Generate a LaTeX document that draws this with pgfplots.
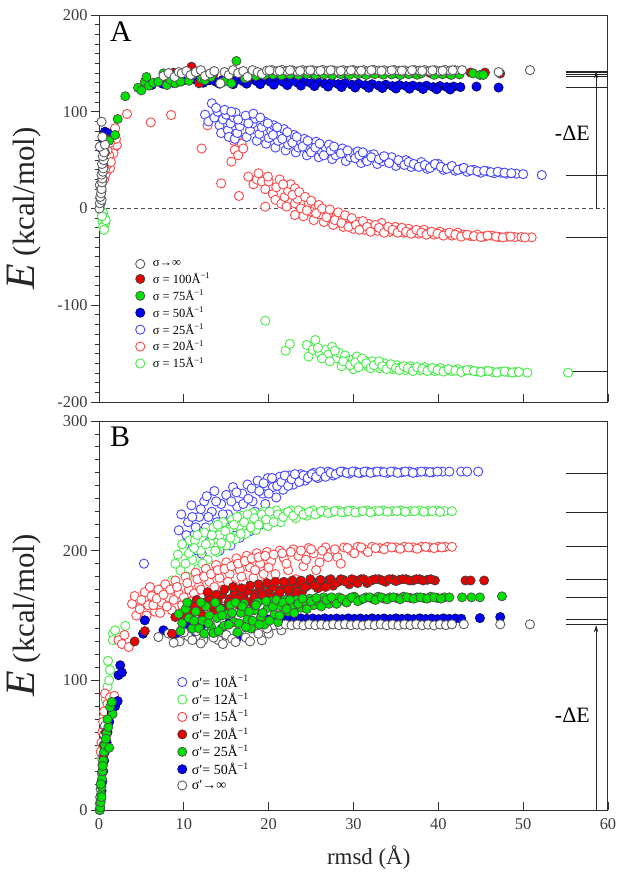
\documentclass[border=0pt]{standalone}
\usepackage{pgfplots}
\pgfplotsset{compat=1.18}
\usepackage{fontspec}
\setmainfont{Liberation Serif}
\usetikzlibrary{arrows.meta}
\definecolor{cgray}{RGB}{95,95,95}
\definecolor{cred}{RGB}{235,0,0}
\definecolor{cgreen}{RGB}{0,225,0}
\definecolor{cblue}{RGB}{0,0,245}
\definecolor{oblue}{RGB}{70,70,255}
\definecolor{ored}{RGB}{255,70,70}
\definecolor{ogreen}{RGB}{70,235,70}
\definecolor{tickc}{RGB}{60,60,60}
\pgfplotsset{
  sgray/.style={only marks, mark=*, mark options={solid, draw=cgray, fill=white, line width=0.9bp}, mark size=4.6bp},
  sred/.style={only marks, mark=*, mark options={solid, draw=black!75, fill=cred, line width=0.7bp}, mark size=4.6bp},
  sgreen/.style={only marks, mark=*, mark options={solid, draw=black!70, fill=cgreen, line width=0.7bp}, mark size=4.6bp},
  sblue/.style={only marks, mark=*, mark options={solid, draw=black!60!blue, fill=cblue, line width=0.7bp}, mark size=4.6bp},
  oblu/.style={only marks, mark=*, mark options={solid, draw=oblue, fill=white, line width=0.9bp}, mark size=4.6bp},
  ored/.style={only marks, mark=*, mark options={solid, draw=ored, fill=white, line width=0.9bp}, mark size=4.6bp},
  ogre/.style={only marks, mark=*, mark options={solid, draw=ogreen, fill=white, line width=0.9bp}, mark size=4.6bp},
  myax/.style={
    scale only axis, width=509bp, xmin=0, xmax=60,
    axis line style={line width=1bp, draw=black!80},
    xtick={0,10,20,30,40,50,60},
    xtick pos=bottom, ytick pos=left,
    xtick align=inside, ytick align=outside,
    minor x tick num=0, minor y tick num=9,
    major tick length=8bp, minor tick length=4.5bp,
    every tick/.style={black!80, line width=0.9bp},
    tick label style={font=\fontsize{16.5}{18}\selectfont, text=tickc},
    /pgf/number format/assume math mode=true,
    ylabel={\color{black!85}\fontsize{42}{42}\selectfont\itshape E\upshape\fontsize{31}{31}\selectfont\ (kcal/mol)},
    ylabel style={at={(axis description cs:-0.147,0.5)}, anchor=center},
    legend cell align=left,
    legend image code/.code={\draw[##1] plot coordinates {(0bp,0bp)};},
  },
  refl/.style={forget plot, black!85, line width=0.8bp},
}
\begin{document}
\begin{tikzpicture}
\useasboundingbox (0,0) rectangle (624bp,-877bp);
%%%%%%%%%%%%%%%%%%%% PANEL A
\begin{axis}[myax, at={(99bp,-15bp)}, anchor=north west, height=387bp,
  ymin=-200, ymax=200, ytick={-200,-100,0,100,200}, xticklabels={},
  legend style={draw=none, fill=none, at={(axis cs:4.3,-52)}, anchor=north west,
    font=\fontsize{12.5}{13}\selectfont, row sep=3.2bp, column sep=7bp, inner sep=0pt, nodes={inner sep=1bp}}]
\addlegendimage{sgray}\addlegendentry{σ→∞}
\addlegendimage{sred}\addlegendentry{σ = 100Å\textsuperscript{−1}}
\addlegendimage{sgreen}\addlegendentry{σ = 75Å\textsuperscript{−1}}
\addlegendimage{sblue}\addlegendentry{σ = 50Å\textsuperscript{−1}}
\addlegendimage{oblu}\addlegendentry{σ = 25Å\textsuperscript{−1}}
\addlegendimage{ored}\addlegendentry{σ = 20Å\textsuperscript{−1}}
\addlegendimage{ogre}\addlegendentry{σ = 15Å\textsuperscript{−1}}
% zero line
\addplot[forget plot, black!70, line width=1.1bp, dash pattern=on 4bp off 3bp] coordinates {(0,0) (59.7,0)};
% reference lines
\addplot[refl] coordinates {(55.1,142.1) (60,142.1)};
\addplot[refl] coordinates {(55.1,140.4) (60,140.4)};
\addplot[refl] coordinates {(55.1,138.7) (60,138.7)};
\addplot[refl] coordinates {(55.1,136.9) (60,136.9)};
\addplot[refl] coordinates {(55.1,125.3) (60,125.3)};
\addplot[refl] coordinates {(55.1,34.6) (60,34.6)};
\addplot[refl] coordinates {(55.1,-30.2) (60,-30.2)};
\addplot[refl] coordinates {(55.1,-168.7) (60,-168.7)};
\addplot[forget plot, black!85, line width=0.9bp, -{Stealth[length=7bp,width=4.5bp]}] coordinates {(58.6,0) (58.6,142)};
\node[font=\fontsize{22}{22}\selectfont] at (axis cs:55.8,77.6) {-ΔE};
\node[font=\fontsize{30}{30}\selectfont, anchor=north west] at (axis cs:0.9,197) {A};
% sigma = 15 open green
\addplot[ogre, forget plot] coordinates {
(0.3,-3) (0.5,-5) (0.6,-9) (0.4,-13) (0.7,-16) (0.5,-19) (0.6,-22) (0.8,-12) (0.35,-8)
(19.6,-116) (22.0,-147) (22.5,-140) (24.5,-141) (25.5,-136) (24.7,-153) (25.2,-146) (26.0,-150) (26.7,-146)
(27.0,-151) (27.5,-143) (28.0,-154.6) (28.3,-149) (28.6,-163) (29.0,-152) (29.4,-157) (29.9,-156.3) (30.0,-166)
(30.4,-153) (30.8,-160) (31.3,-157) (31.7,-163) (32.2,-158) (32.7,-161) (33.1,-165) (33.6,-160) (34.1,-163)
(34.6,-166) (35.1,-162) (35.6,-164) (36.1,-167) (36.7,-163) (37.2,-165) (37.8,-167) (38.4,-164) (39.0,-166)
(39.6,-168) (40.2,-165) (40.9,-167) (41.6,-168) (42.3,-166) (43.0,-168) (43.8,-167) (44.6,-168.5) (45.5,-168)
(46.4,-169) (47.3,-168.5) (48.2,-169) (49.1,-169) (50.5,-169.7) (55.3,-169.7)
(25.8,-144) (26.3,-155) (27.2,-158) (27.8,-147) (28.8,-158) (29.6,-162) (30.2,-159) (30.6,-164) (31.0,-155)
(31.5,-160) (32.0,-165) (32.4,-162) (33.0,-158) (33.4,-163) (33.9,-166) (34.4,-161) (35.0,-165) (35.4,-167)
(35.9,-163) (36.4,-165) (37.0,-168) (37.5,-164) (38.1,-166) (38.7,-168) (39.3,-165) (39.9,-167) (40.6,-168.5)
(41.2,-166) (42.0,-167.5) (42.7,-169) (43.4,-167) (44.2,-168) (45.0,-169) (45.9,-168) (46.9,-169.5) (47.8,-168.5)
(48.7,-169.5) (49.5,-169)};
% sigma = 20 open red
\addplot[ored, forget plot] coordinates {
(0.6,30) (0.8,36) (1.1,50) (1.3,41.5) (0.9,45) (1.5,63.9) (1.9,63.9) (1.7,57) (1.7,70.8) (2.1,65.6) (1.9,82.9)
(1.2,55) (1.4,48) (1.0,60) (1.6,75) (2.0,72) (0.7,40) (1.3,68)
(3.3,97.7) (6.1,89) (8.5,96.6) (12.1,62) (12.8,86) (14.4,26) (16.5,13) (15.6,48.4) (16.0,60.5) (16.8,67)
(16.4,55) (15.9,70) (16.3,75) (17.0,62)
(17.6,33) (18.2,25) (18.6,30) (18.8,36.4) (19.2,27.8) (19.6,20) (20.0,28) (19.9,33) (20.5,15) (20.9,22) (21.3,30)
(19.6,1.9) (20.8,9) (21.5,5) (21.9,12) (22.3,18) (22.6,25) (23.1,5.3) (23.1,-6.7) (23.1,20.9) (23.4,10) (23.8,0)
(24.1,-8) (24.7,6) (24.9,-3) (25.3,-12) (25.9,3.6) (26.1,-6) (26.5,-14) (27.0,-5) (27.3,-10) (27.6,-17)
(28.0,-8) (28.4,-13) (28.8,-19) (29.2,-11) (29.6,-16) (30.0,-21) (30.5,-14) (30.9,-18) (31.3,-22) (31.8,-16)
(32.3,-20) (32.8,-23) (33.3,-15) (33.8,-21) (34.3,-24) (34.9,-19) (35.4,-22) (35.9,-25) (36.5,-21) (37.1,-24)
(37.7,-26) (38.3,-22) (38.9,-25) (39.5,-27) (40.2,-24) (40.9,-26) (41.6,-28) (42.3,-25) (43.0,-27) (43.8,-28.5)
(44.6,-27) (45.4,-29) (46.3,-28) (47.2,-29.5) (48.1,-29) (49.0,-29.5) (49.8,-29.5) (51.0,-29.8)
(21.7,25) (22.1,2) (22.8,14) (23.6,17) (24.3,12) (24.5,-2) (25.0,8) (25.6,-5) (26.3,0) (26.8,-9) (27.2,-1)
(27.8,-12) (28.2,-4) (28.6,-15) (29.0,-7) (29.4,-19) (29.8,-10) (30.3,-17) (30.7,-22) (31.1,-13) (31.6,-19)
(32.0,-24) (32.6,-17) (33.0,-20) (33.6,-25) (34.1,-19) (34.6,-22) (35.2,-25) (35.7,-20) (36.2,-24) (36.8,-26)
(37.4,-22) (38.0,-25) (38.6,-27) (39.2,-24) (39.9,-26) (40.6,-28) (41.3,-25) (42.0,-27) (42.7,-29) (43.4,-27)
(44.2,-28.5) (45.0,-29.5) (45.8,-28) (46.8,-29) (47.6,-30) (48.5,-29) (50.2,-30)};
% sigma = 25 open blue
\addplot[oblu, forget plot] coordinates {
(13.3,108.7) (12.5,97) (12.9,90) (13.6,94) (14.0,100) (14.2,86) (14.4,78) (14.6,92) (15.0,97) (15.2,81) (15.3,74)
(15.5,88) (15.9,94) (16.0,72) (16.1,99) (16.3,78) (16.6,85) (17.0,91) (17.3,96) (17.4,74) (17.8,81) (18.1,88)
(18.4,93) (18.6,70) (18.9,77) (19.2,84) (19.5,90) (19.7,67) (20.0,73) (20.3,80) (20.6,86) (20.8,63) (21.1,70)
(21.4,76) (21.8,82) (22.0,60) (22.3,66) (22.6,72) (23.0,76) (23.2,58) (23.5,63) (23.8,69) (24.2,72) (24.5,55)
(24.8,61) (25.2,66) (25.6,69) (25.9,53) (26.3,58) (26.7,63) (27.1,66) (27.5,51) (27.9,55) (28.3,60) (28.7,62)
(29.1,49) (29.6,53) (30.0,57) (30.5,59) (30.9,47) (31.4,51) (31.9,55) (32.4,56) (32.8,46) (33.4,49) (33.9,52)
(34.5,53) (35.0,44) (35.6,47) (36.2,50) (36.8,43) (37.4,45) (38.0,48) (38.7,41) (39.3,44) (40.0,46) (40.6,40)
(41.3,42) (42.0,39) (42.7,41) (43.4,38) (44.2,40) (45.0,37) (45.8,38.5) (46.6,36.5) (47.4,37) (48.0,36)
(49.2,36) (50.0,35.5) (52.2,34.6)
(13.8,104) (14.8,102) (15.6,100) (16.4,92) (17.6,88) (18.2,98) (19.0,94) (19.9,88) (20.5,76) (21.0,84) (21.6,72)
(22.2,79) (22.8,68) (23.3,74) (24.0,64) (24.6,70) (25.0,58) (25.5,63) (26.0,67) (26.5,55) (27.3,60) (27.7,64)
(28.5,57) (29.3,60) (30.2,52) (30.7,55) (31.1,58) (31.6,49) (32.1,53) (33.0,51) (33.6,54) (34.2,47) (35.3,50)
(36.0,45) (36.5,48) (37.1,46) (37.7,43) (38.4,45) (39.0,42) (39.6,46) (40.3,43) (41.0,41) (41.6,44) (42.3,40)
(43.0,42) (43.8,39.5) (44.6,38.5) (45.4,39) (46.2,37.5) (47.0,38) (47.8,37) (48.6,36.5)};
% sigma = 50 filled blue
\addplot[sblue, forget plot] coordinates {
(0.3,62) (0.4,66) (0.5,70.8) (0.7,79.4) (0.9,74) (0.6,76) (0.8,68) (1.0,78)
(6.2,127.6) (7.5,129) (8.7,130) (9.8,132) (11.3,133.5) (12.3,130) (13.0,132.5) (13.8,131) (14.6,133)
(15.4,131.5) (16.2,133) (17.0,131.5) (17.8,133) (18.6,131.5) (19.4,132.5) (20.2,131) (21.0,132) (21.8,130.5)
(22.6,131.5) (23.4,130) (24.2,131) (25.0,129.5) (25.8,130.5) (26.6,129) (27.4,130) (28.2,128.5) (29.0,129.5)
(29.8,128) (30.6,129) (31.4,127.5) (32.2,128.5) (33.0,127) (33.8,128) (34.6,126.5) (35.4,127.5) (36.2,126.5)
(37.0,127) (37.8,126) (38.6,127) (39.4,125.5) (40.2,126.5) (41.0,125.5) (41.8,126) (42.6,125.5) (44.5,126) (47.1,125)
(14.2,129) (15.8,128.5) (17.4,129) (19.0,128.5) (20.6,128) (22.2,127.5) (23.8,127) (25.4,126.5) (27.0,126)
(28.6,125.5) (30.2,125) (31.8,124.8) (33.4,124.5) (35.0,124) (36.6,123.8) (38.2,123.5) (39.8,123.2) (41.4,123)};
% sigma = 100 filled red
\addplot[sred, forget plot] coordinates {
(0.2,10) (0.3,25) (0.5,45) (0.6,58) (0.8,72) (8.8,140.4) (10.9,146.6) (11.8,129.4) (13.5,139) (16.0,141)
(18,140.5) (19,140) (20,141) (21,140.3) (22,140.8) (23,140.1) (24,140.7) (25,140.2) (26,140.9) (27,140.3)
(28,140.6) (29,140.1) (30,140.8) (31,140.2) (32,140.7) (33,140.3) (34,140.9) (35,140.1) (36,140.6) (37,140.3)
(38,140.8) (39,140.2) (40,140.6) (41,140.1) (42,140.5) (43.8,140.5) (45.5,140.5) (47.3,139.5)};
% sigma = 75 filled green
\addplot[sgreen, forget plot] coordinates {
(0.2,5) (0.3,18) (0.4,30) (0.5,45) (0.7,58) (1.2,70) (1.9,76) (2.2,92.5) (3.1,116) (4.6,124.8) (5.0,122)
(5.4,131) (5.6,136) (5.9,127) (6.4,130) (7.0,131) (7.6,139.7) (8.0,127.6) (8.4,133) (9.0,129.4) (9.2,136)
(9.6,131) (10.6,132) (11.0,138) (12.1,134) (12.5,132.8) (13.2,136) (14.7,131) (15.6,129.4) (16.2,152.5)
(17.2,134.6) (18.5,137) (19.5,138)
(20.5,138.5) (21.5,137.8) (22.5,138.7) (23.5,138) (24.5,138.9) (25.5,138.2) (26.5,138.6) (27.5,137.9)
(28.5,138.8) (29.5,138.1) (30.5,138.7) (31.5,138) (32.5,138.9) (33.5,138.3) (34.5,138.6) (35.5,137.9)
(36.5,138.8) (37.5,138.2) (38.0,139.7) (39.5,138.1) (40.5,138.7) (41.5,138) (42.5,138.6)
(44.1,139.7) (44.9,138) (45.3,138)};
% sigma -> infinity open gray
\addplot[sgray, forget plot] coordinates {
(0.05,0) (0.1,5.4) (0.3,8.8) (0.15,12) (0.25,15.7) (0.1,24.3) (0.3,20) (0.35,27) (0.4,31) (0.3,35) (0.45,38)
(0.5,41.5) (0.35,46) (0.55,50) (0.45,54) (0.6,58) (0.1,63.9) (0.7,66) (0.4,74) (0.3,89.7)
(7.6,137) (8.2,140) (8.9,136) (9.4,141) (9.75,139.7) (10.3,142) (10.8,138) (11.4,141) (12.0,143) (12.5,137)
(13.1,139.7) (13.6,142) (14.3,129.4) (14.8,141) (15.3,138) (15.8,143) (16.4,140) (17.0,142) (17.5,136)
(18.1,143) (18.7,141) (19.2,139)
(19.8,142.5) (20.4,143) (21.0,141.8) (21.6,143.2) (22.2,142) (22.8,142.8) (23.4,141.6) (24.0,143.1) (24.6,142.3)
(25.2,142.9) (25.8,141.9) (26.4,143.2) (27.0,142.4) (27.6,142.8) (28.2,141.7) (28.8,143) (29.4,142.2) (30.0,143.1)
(30.6,142) (31.2,142.9) (31.8,141.8) (32.4,143.2) (33.0,142.5) (33.6,142.9) (34.2,141.9) (34.8,143.1) (35.4,142.3)
(36.0,142.8) (36.6,141.8) (37.2,143) (37.8,142.4) (38.4,143.1) (39.0,142) (39.6,142.9) (40.2,141.9) (40.8,143.2)
(41.4,142.4) (42.0,142.9) (42.8,143) (47.1,141) (50.8,143)
(20.1,142.7) (21.3,142.3) (22.5,142.9) (23.7,142.2) (24.9,142.8) (26.1,142.4) (27.3,142.9) (28.5,142.3)
(29.7,142.8) (30.9,142.4) (32.1,142.9) (33.3,142.2) (34.5,142.8) (35.7,142.4) (36.9,142.9) (38.1,142.3)
(39.3,142.8) (40.5,142.4) (41.7,142.9)};
\end{axis}
%%%%%%%%%%%%%%%%%%%% PANEL B
\begin{axis}[myax, at={(99bp,-421bp)}, anchor=north west, height=389bp,
  ymin=0, ymax=300, ytick={0,100,200,300},
  xticklabel style={yshift=-5bp},
  xlabel={\color{black!85}rmsd (Å)},
  xlabel style={font=\fontsize{23}{23}\selectfont, at={(axis description cs:0.53,-0.123)}, anchor=center},
  legend style={draw=none, fill=none, at={(axis cs:9.25,104.7)}, anchor=north west,
    font=\fontsize{14}{14}\selectfont, row sep=2.3bp, column sep=4bp, inner sep=0pt, nodes={inner sep=1bp}}]
\addlegendimage{oblu}\addlegendentry{σ′= 10Å\textsuperscript{−1}}
\addlegendimage{ogre}\addlegendentry{σ′= 12Å\textsuperscript{−1}}
\addlegendimage{ored}\addlegendentry{σ′= 15Å\textsuperscript{−1}}
\addlegendimage{sred}\addlegendentry{σ′= 20Å\textsuperscript{−1}}
\addlegendimage{sgreen}\addlegendentry{σ′= 25Å\textsuperscript{−1}}
\addlegendimage{sblue}\addlegendentry{σ′= 50Å\textsuperscript{−1}}
\addlegendimage{sgray}\addlegendentry{σ′→∞}
% reference lines
\addplot[refl] coordinates {(55.1,259.9) (60,259.9)};
\addplot[refl] coordinates {(55.1,229.8) (60,229.8)};
\addplot[refl] coordinates {(55.1,203.4) (60,203.4)};
\addplot[refl] coordinates {(55.1,177.9) (60,177.9)};
\addplot[refl] coordinates {(55.1,164.0) (60,164.0)};
\addplot[refl] coordinates {(55.1,147.0) (60,147.0)};
\addplot[refl] coordinates {(55.1,143.0) (60,143.0)};
\addplot[forget plot, black!85, line width=0.9bp, -{Stealth[length=7bp,width=4.5bp]}] coordinates {(58.6,0) (58.6,142.5)};
\node[font=\fontsize{22}{22}\selectfont] at (axis cs:55.8,73) {-ΔE};
\node[font=\fontsize{30}{30}\selectfont, anchor=north west] at (axis cs:0.9,298) {B};
% sigma' = 10 open blue
\addplot[oblu, forget plot] coordinates {
(5.3,190) (9.4,215.7) (9.7,228) (10.1,205) (10.5,222) (10.9,235) (11.2,212) (11.6,200) (11.8,226) (12.1,197.7)
(12.4,238) (12.7,242) (12.6,218) (13.0,207) (13.3,230) (13.6,246) (13.9,222) (14.2,200) (14.4,236) (14.7,212)
(15.0,243) (15.2,228) (15.5,204) (15.8,249) (16.0,218) (16.3,234) (16.6,210) (16.9,244) (17.2,225) (17.5,251)
(17.8,215) (18.1,238) (18.4,230) (18.7,254) (19.0,220) (19.3,244) (19.6,236) (19.9,256) (20.2,228) (20.5,249)
(20.9,241) (21.3,257) (21.7,247) (22.1,253) (22.5,258) (22.9,251) (23.3,256) (23.8,259) (24.3,254) (24.8,258)
(25.3,260) (25.8,256) (26.4,259) (27.0,261) (27.6,258) (28.2,260) (28.8,261) (29.5,259.5) (30.2,261) (30.9,260)
(31.6,261) (32.4,260.5) (33.2,261) (34.0,260) (34.8,261) (35.7,260.5) (36.6,261) (37.5,260.5) (38.5,261)
(39.3,260.5) (40.5,261) (41.3,261) (42.7,261) (43.4,261) (44.7,261)
(10.3,212) (11.0,226) (11.4,218) (12.0,232) (12.9,226) (13.4,212) (13.8,238) (14.6,228) (15.1,218) (15.6,238)
(16.2,245) (16.5,226) (17.0,236) (17.6,240) (18.0,248) (18.5,222) (18.9,246) (19.4,252) (20.0,244) (20.4,256)
(21.0,250) (21.5,253) (21.9,258) (22.3,250) (22.7,255) (23.1,259) (23.6,253) (24.1,258) (24.6,256) (25.1,259)
(25.6,257) (26.1,261) (26.7,257) (27.3,260) (27.9,259) (28.5,261) (29.2,260) (29.9,261) (30.6,260) (31.3,261)
(32.0,260) (32.8,261) (33.6,260.5) (34.4,261) (35.2,260) (36.1,261) (37.0,260) (38.0,261) (39.0,260.5) (39.9,261)};
% sigma' = 12 open green
\addplot[ogre, forget plot] coordinates {
(0.3,40) (0.4,50) (0.5,60) (0.6,72) (0.8,85) (1.0,95) (1.06,115) (1.3,108) (1.2,100) (1.65,136) (1.65,131)
(1.9,138.6) (2.4,133) (3.1,142)
(8.6,177) (9.0,190) (9.6,184.8) (10.0,200) (10.7,208) (10.4,180) (11.0,193) (11.3,208) (11.7,186) (12.0,200)
(12.4,214) (12.8,193) (13.1,206) (13.5,218) (13.9,199) (14.2,212) (14.6,222) (15.0,204) (15.3,216) (15.7,224)
(16.1,209) (16.5,219) (16.9,227) (17.3,213) (17.7,222) (18.1,229) (18.5,216) (19.0,225) (19.4,230) (19.9,219)
(20.4,227) (20.9,231) (21.4,222) (22.0,229) (22.6,231) (23.2,225) (23.8,230) (24.5,227) (25.2,231) (25.9,229)
(26.6,231) (27.4,229.5) (28.2,231) (29.0,230) (29.8,231) (30.7,230) (31.6,231) (32.5,230.5) (33.5,231)
(34.6,230.5) (35.6,231) (36.7,230.5) (37.8,231) (38.8,230.5) (39.8,231) (40.7,230.5) (41.6,230.4)
(9.3,197) (9.8,205) (10.2,190) (10.6,198) (11.2,202) (11.6,212) (12.2,190) (12.6,205) (13.3,212) (13.7,200)
(14.0,220) (14.4,206) (14.9,215) (15.5,210) (15.9,220) (16.3,226) (16.7,213) (17.1,222) (17.5,228) (17.9,218)
(18.3,225) (18.8,220) (19.2,228) (19.7,224) (20.1,230) (20.6,222) (21.1,228) (21.7,226) (22.3,230) (22.9,227)
(23.5,231) (24.1,228) (24.8,230) (25.5,228) (26.2,230.5) (27.0,229) (27.8,230.5) (28.6,229.5) (29.4,230.5)
(30.2,229.5) (31.1,230.5) (32.0,229.5) (33.0,230.5) (34.0,230) (35.1,230.5) (36.1,230) (37.2,230.5) (38.3,230)
(39.3,230.5) (40.2,230)};
% sigma' = 15 open red
\addplot[ored, forget plot] coordinates {
(0.2,45) (0.3,52) (0.4,60) (0.5,68) (0.6,76) (0.7,89.8) (0.9,58.6) (1.0,82) (1.3,87) (1.1,70) (1.5,78) (1.8,88)
(2.3,130.9) (2.7,128) (3.0,135) (3.5,125.7) (3.9,159) (4.4,150) (4.8,155) (5.4,168) (5.8,158) (6.2,165) (6.6,153)
(7.0,170) (7.4,160) (7.8,174) (8.2,164) (8.6,154) (9.0,177) (9.4,167) (9.8,158) (10.2,180) (10.6,170) (11.0,161)
(11.4,183) (11.8,173) (12.2,164) (12.6,186) (13.0,176) (13.4,167) (13.8,189) (14.2,179) (14.6,170) (15.0,191)
(15.4,182) (15.8,173) (16.2,194) (16.6,185) (17.0,176) (17.4,196) (17.8,187) (18.2,179) (18.6,198) (19.0,190)
(19.4,182) (19.8,199) (20.3,192) (20.8,182) (21.3,200) (21.8,194) (22.3,185) (22.9,201) (23.5,196) (24.1,188)
(24.7,202) (25.3,198) (26.0,191) (26.7,202.5) (27.4,199) (28.1,195) (28.9,202.5) (29.7,200) (30.5,203)
(31.3,201) (32.2,203) (33.1,202) (34.0,203) (35.0,202.5) (36.0,203) (37.0,202.5) (38.0,203) (39.0,202.5)
(40.0,203) (40.8,203) (41.6,203)
(4.2,165) (5.0,162) (5.6,150) (6.0,172) (6.4,158) (6.8,163) (7.2,152) (7.6,166) (8.0,157) (8.4,170) (8.8,162)
(9.2,172) (9.6,150) (10.0,164) (10.4,175) (10.8,156) (11.2,167) (11.6,178) (12.0,170) (12.4,180) (12.8,159)
(13.2,182) (13.6,172) (14.0,185) (14.4,163) (14.8,186) (15.2,176) (15.6,188) (16.0,167) (16.4,190) (16.8,180)
(17.2,192) (17.6,170) (18.0,194) (18.4,185) (18.8,195) (19.2,174) (19.6,196) (20.0,187) (20.6,197) (21.0,175)
(21.6,198) (22.1,190) (22.6,199) (23.2,178) (23.8,200) (24.4,193) (25.0,201) (25.6,185) (26.3,200) (27.0,195)
(27.8,201) (28.5,190) (29.3,202) (30.1,198) (30.9,202.5) (31.7,199) (32.6,202) (33.6,201) (34.5,202.5)
(35.5,201.5) (36.5,202.5) (37.5,201.5) (38.5,203) (39.5,202) (40.4,202.5)};
% sigma' = 50 filled blue
\addplot[sblue, forget plot] coordinates {
(0.1,0) (0.2,8) (0.3,15) (0.4,22) (0.5,30) (0.6,38) (0.7,45) (0.9,52) (1.0,60) (1.2,68) (1.5,75) (1.9,80) (2.2,84)
(2.3,104) (2.5,111.6) (2.7,106) (5.2,136) (5.4,146.3) (7.6,138.6) (9.0,133.4) (10.4,142) (11.2,138) (12.0,141)
(13.6,133.4) (14.5,140) (15.3,144) (16.3,133.4) (17.2,141) (18.0,145)
(19.6,147.6) (20.3,147.2) (21.0,147.8) (21.7,147.3) (22.4,147.7) (23.1,147.2) (23.8,147.8) (24.5,147.4)
(25.2,147.7) (25.9,147.2) (26.6,147.8) (27.3,147.3) (28.0,147.7) (28.7,147.2) (29.4,147.8) (30.1,147.4)
(30.8,147.7) (31.5,147.2) (32.2,147.8) (32.9,147.3) (33.6,147.7) (34.3,147.2) (35.0,147.8) (35.7,147.4)
(36.4,147.7) (37.1,147.2) (37.8,147.8) (38.5,147.3) (39.2,147.7) (39.9,147.2) (40.6,147.8) (41.3,147.4)
(42.0,147.7) (42.7,147.5) (44.9,148) (47.3,148.8)};
% sigma' -> infinity open gray
\addplot[sgray, forget plot] coordinates {
(0.05,0) (0.1,5) (0.15,10) (0.2,16) (0.3,22) (0.35,28) (0.4,35) (0.5,42) (0.55,50) (0.6,58) (0.7,65)
(7.0,133.4) (8.2,136) (9.5,130) (10.5,134) (11.5,138) (12.3,131) (13.0,136) (14.1,130.9) (15.0,135) (15.7,132)
(16.5,138) (17.3,133) (18.0,140) (18.4,142.4) (19.2,130.9) (20.0,136) (20.6,142.5) (21.5,138.6)
(8.8,129) (10.0,137) (11.0,131) (12.0,128.5) (13.5,133) (14.6,128) (16.1,129.5) (17.8,130) (18.8,136) (19.8,140)
(21.3,142.8) (22.0,143.1) (22.7,142.5) (23.4,143) (24.1,142.4) (24.8,143.2) (25.5,142.6) (26.2,143)
(26.9,142.4) (27.6,143.1) (28.3,142.6) (29.0,143.2) (29.7,142.5) (30.4,143) (31.1,142.4) (31.8,143.1)
(32.5,142.6) (33.2,143.2) (33.9,142.5) (34.6,143) (35.3,142.4) (36.0,143.1) (36.7,142.6) (37.4,143.2)
(38.1,142.5) (38.8,143) (39.5,142.4) (40.2,143.1) (40.9,142.6) (41.6,143.2) (43.0,143.2) (47.3,143.2) (50.8,143.2)};
% sigma' = 20 filled red
\addplot[sred, forget plot] coordinates {
(0.3,20) (0.4,30) (0.5,40) (0.6,50) (0.8,60) (4.2,130) (5.4,138) (8.6,136) (9.0,148.8) (10.0,150) (10.5,159)
(11.0,152) (11.5,162) (12.0,155) (12.5,160) (13.0,164) (13.5,153) (14.0,161) (14.5,166) (15.0,156) (15.5,163)
(16.0,168) (16.5,158) (17.0,165) (17.5,169) (18.0,160) (18.5,167) (19.0,171) (19.5,162) (20.0,168) (20.5,172)
(21.0,165) (21.5,170) (22.0,173) (22.5,167) (23.0,172) (23.5,175) (24.0,169) (24.6,173) (25.2,176) (25.8,171)
(26.4,175) (27.0,177) (27.6,173) (28.2,176) (28.8,177.5) (29.5,174) (30.2,177) (30.9,178) (31.6,175)
(32.3,177.5) (33.0,178) (33.8,176) (34.6,178) (35.4,177.5) (36.2,178) (37.0,177) (37.8,178) (38.7,177.5)
(39.6,177) (43.2,177) (43.8,177) (45.4,177)
(11.3,157) (12.2,150) (12.8,168) (13.3,158) (13.8,166) (14.3,156) (14.8,170) (15.3,160) (15.8,172) (16.3,163)
(16.8,171) (17.3,161) (17.8,173) (18.3,164) (18.8,174) (19.3,166) (19.8,175) (20.3,164) (20.8,176) (21.3,168)
(21.8,176) (22.3,170) (22.8,177) (23.3,168) (23.8,177) (24.3,172) (24.9,178) (25.5,173) (26.1,177.5) (26.7,172)
(27.3,178) (27.9,175) (28.5,178) (29.1,176) (29.8,178) (30.5,175) (31.2,178) (31.9,176.5) (32.6,178) (33.4,177)
(34.2,178) (35.0,176.5) (35.8,178) (36.6,177) (37.4,178) (38.2,177) (39.1,178)};
% sigma' = 25 filled green
\addplot[sgreen, forget plot] coordinates {
(0.1,0) (0.15,2) (0.2,6) (0.25,12) (0.3,18) (0.35,24) (0.4,30) (0.5,38) (0.6,45) (0.7,50) (0.9,59) (1.1,64)
(1.6,74) (1.3,79.4) (1.5,83.3) (0.8,55) (1.0,70) (0.3,10) (0.45,34) (0.2,20) (1.2,48)
(9.4,151.2) (9.8,144) (10.2,155) (10.6,148) (11.0,140) (11.4,153) (11.8,140) (12.2,146) (12.6,157) (13.2,141.6)
(13.0,150) (13.5,136.5) (13.9,148) (14.3,155) (14.7,142) (15.1,151) (15.5,158) (15.9,145) (16.3,137) (16.7,152)
(17.1,159) (17.5,147) (17.9,140) (18.3,154) (18.7,160) (19.1,149) (19.5,143) (19.9,156) (20.3,161) (20.7,151)
(21.1,145) (21.5,157) (21.9,162) (22.3,153) (22.8,158) (23.3,162) (23.8,156) (24.3,160) (24.8,163) (25.3,158)
(25.9,161) (26.5,164) (27.1,159) (27.7,162) (28.3,164) (28.9,161) (29.5,163) (30.1,164.5) (30.8,162) (31.5,164)
(32.2,163) (32.9,164.5) (33.6,163) (34.3,164) (35.1,163.5) (35.9,164.5) (36.7,163.5) (37.5,164) (38.3,163.5)
(39.1,164.5) (39.9,163.5) (40.7,164) (41.3,164) (42.8,164) (43.9,164) (44.9,164) (47.5,164.8)
(9.6,138) (10.4,160) (11.2,146) (12.0,160) (12.4,136) (12.9,144) (13.7,160) (14.1,138) (14.5,150) (15.3,143)
(15.7,152) (16.1,160) (16.5,144) (16.9,157) (17.3,141) (17.7,153) (18.1,146) (18.5,158) (18.9,143) (19.3,152)
(19.7,161) (20.1,146) (20.5,157) (20.9,162) (21.3,150) (21.7,160) (22.1,155) (22.5,162) (23.0,152) (23.5,159)
(24.0,163) (24.5,155) (25.0,161) (25.6,163.5) (26.2,157) (26.8,162) (27.4,164) (28.0,159) (28.6,163) (29.2,160)
(29.8,164) (30.5,161) (31.2,163) (31.9,164) (32.6,162) (33.3,164) (34.0,162.5) (34.7,164) (35.5,162.5)
(36.3,164) (37.1,163) (37.9,164) (38.7,163) (39.5,164) (40.3,163)};
\end{axis}
\end{tikzpicture}
\end{document}
